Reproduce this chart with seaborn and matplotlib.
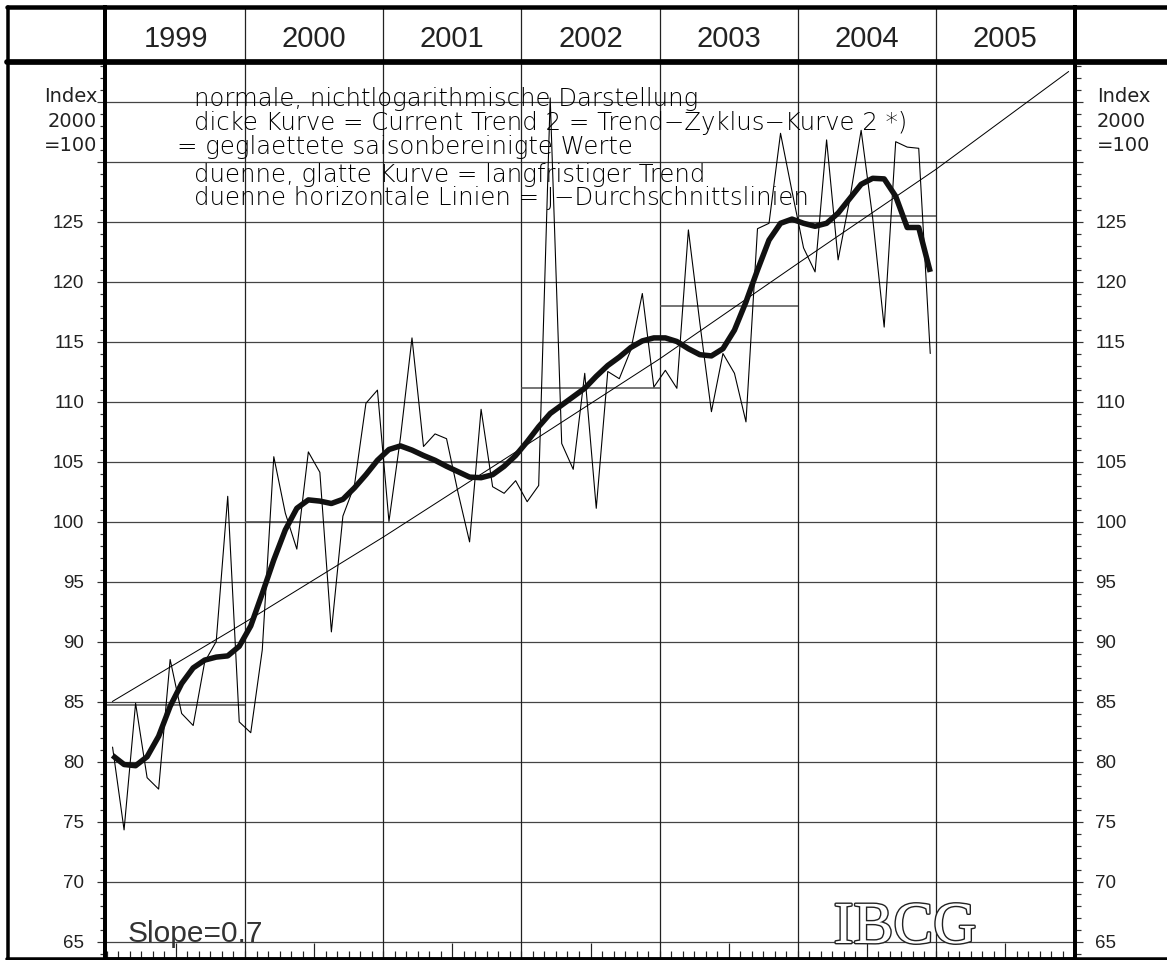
import numpy as np
import pandas as pd
import matplotlib
matplotlib.use('Agg')
import matplotlib.pyplot as plt
import matplotlib.patheffects as pe
from matplotlib.lines import Line2D
import seaborn as sns

# ---------------- data ----------------
header_years = [1999, 2000, 2001, 2002, 2003, 2004, 2005]
year_labels = ['1999', '2000', '2001', '2002', '2003', '2004', '2005']

# seasonally adjusted monthly values (thin line), Jan..Dec
sa_1999 = [81.2, 74.3, 84.85, 78.65, 77.7, 88.5, 84.0, 83.0, 88.3, 90.0, 102.1, 83.3]
sa_2000 = [82.4, 89.3, 105.4, 100.7, 97.7, 105.8, 104.1, 90.8, 100.45, 103.0, 109.85, 110.95]
sa_2001 = [100.0, 107.0, 115.3, 106.25, 107.3, 106.9, 102.4, 98.3, 109.35, 102.9, 102.35, 103.4]
sa_2002 = [101.65, 103.0, 135.3, 106.5, 104.35, 112.35, 101.1, 112.5, 111.9, 114.3, 119.0, 111.2]
sa_2003 = [112.6, 111.1, 124.3, 116.5, 109.15, 114.0, 112.35, 108.3, 124.4, 124.85, 132.35, 127.5]
sa_2004 = [122.8, 120.8, 131.8, 121.8, 126.8, 132.6, 125.3, 116.2, 131.65, 131.2, 131.1, 114.0]

# trend-cycle curve 2 (thick line)
tc_1999 = [80.5, 79.75, 79.65, 80.4, 82.1, 84.6, 86.5, 87.8, 88.45, 88.7, 88.8, 89.6]
tc_2000 = [91.3, 94.0, 96.8, 99.3, 101.1, 101.8, 101.7, 101.5, 101.85, 102.8, 103.9, 105.1]
tc_2001 = [106.0, 106.3, 105.95, 105.5, 105.1, 104.6, 104.15, 103.7, 103.65, 103.9, 104.6, 105.5]
tc_2002 = [106.65, 107.9, 109.0, 109.7, 110.4, 111.1, 112.1, 113.0, 113.7, 114.5, 115.05, 115.3]
tc_2003 = [115.3, 115.0, 114.4, 113.9, 113.8, 114.4, 115.95, 118.3, 120.95, 123.45, 124.85, 125.2]
tc_2004 = [124.85, 124.6, 124.85, 125.7, 126.9, 128.1, 128.6, 128.55, 127.1, 124.5, 124.5, 120.8]

# annual averages (thin horizontal lines)
avg_years = [1999, 2000, 2001, 2002, 2003, 2004]
avg_values = [84.7, 100.0, 104.95, 111.1, 118.0, 125.5]

# long-term trend (thin smooth line)
lt_x = [1999.04, 2000.0, 2001.0, 2002.0, 2003.0, 2004.0, 2005.0, 2005.96]
lt_y = [85.0, 91.6, 98.7, 106.1, 113.55, 121.5, 129.35, 137.5]

ytick_values = [65, 70, 75, 80, 85, 90, 95, 100, 105, 110, 115, 120, 125, 130, 135]
ytick_labels = ['65', '70', '75', '80', '85', '90', '95', '100', '105', '110',
                '115', '120', '125', '', '']

side_label = ['Index', '2000', '=100']
note_lines = ['normale, nichtlogarithmische Darstellung',
              'dicke Kurve = Current Trend 2 = Trend\u2212Zyklus\u2212Kurve 2 *)',
              '= geglaettete saisonbereinigte Werte',
              'duenne, glatte Kurve = langfristiger Trend',
              'duenne horizontale Linien = J\u2212Durchschnittslinien']
slope_text = 'Slope=0.7'
logo_text = 'IBCG'

# ---------------- assemble ----------------
sa = sa_1999 + sa_2000 + sa_2001 + sa_2002 + sa_2003 + sa_2004
tc = tc_1999 + tc_2000 + tc_2001 + tc_2002 + tc_2003 + tc_2004
months = np.arange(len(sa))
df = pd.DataFrame({'t': 1999 + (months + 0.5) / 12.0, 'sa': sa, 'tc': tc})
lt = pd.DataFrame({'t': lt_x, 'v': lt_y})

sns.set_style('white')
plt.rcParams['font.family'] = ['DejaVu Sans']
NARROW = ['Liberation Sans', 'DejaVu Sans']

W, H = 1167, 960
fig = plt.figure(figsize=(W / 100, H / 100), dpi=100)
PT = 0.72  # points per pixel


def fx(px):
    return px / W


def fy(py):
    return 1 - py / H


# pixel geometry of the frame
AX_L, AX_R, AX_T, AX_B = 105.3, 1074.5, 62.0, 958.5
X0, XS = 106.8, 138.2      # px of 1999.0, px per year
Y0, YS = 941.5, 12.0       # px of value 65, px per unit


def xd(px):
    return 1999 + (px - X0) / XS


def yd(py):
    return 65 + (Y0 - py) / YS


ax = fig.add_axes([fx(AX_L), fy(AX_B), fx(AX_R - AX_L), (AX_B - AX_T) / H])
ax.set_xlim(xd(AX_L), xd(AX_R))
ax.set_ylim(yd(AX_B), yd(AX_T))

# grid
for v in ytick_values:
    ax.axhline(v, color='#444444', lw=1.25 * PT, zorder=1)
for yr in header_years[1:]:
    ax.axvline(yr, color='#222222', lw=1.25 * PT, zorder=1)

# annual averages
ax.hlines(avg_values, avg_years, [y + 1 for y in avg_years],
          color='#4a4a4a', lw=1.5 * PT, zorder=2)

# lines
sns.lineplot(data=lt, x='t', y='v', ax=ax, color='black', lw=1.0 * PT, zorder=3)
sns.lineplot(data=df, x='t', y='sa', ax=ax, color='black', lw=1.1 * PT, zorder=4)
sns.lineplot(data=df, x='t', y='tc', ax=ax, color='#111111', lw=5.5 * PT, zorder=5,
             solid_capstyle='butt', solid_joinstyle='round')
ax.set_xlabel('')
ax.set_ylabel('')

# spines
for s in ['left', 'right']:
    ax.spines[s].set_linewidth(4.0 * PT)
    ax.spines[s].set_color('black')
ax.spines['top'].set_visible(False)
ax.spines['bottom'].set_linewidth(3.5 * PT)
ax.spines['bottom'].set_color('black')

# y ticks
ax.set_yticks(ytick_values)
ax.set_yticklabels(ytick_labels)
ax.set_yticks(np.arange(64, 139, 1), minor=True)
ax.tick_params(axis='y', which='major', direction='out', length=8 * PT,
               width=1.2 * PT, color='#333333', left=True, right=True,
               labelleft=True, labelright=True, pad=13 * PT,
               labelsize=13.5, labelcolor='#222222', labelfontfamily='Liberation Sans')
ax.tick_params(axis='y', which='minor', direction='out', length=5.5 * PT,
               width=1.2 * PT, color='#333333', left=True, right=True)

# x ticks: half-year long, monthly short, inside from bottom
ax.set_xticks([y + 0.5 for y in header_years])
ax.set_xticks([1999 + k / 12.0 for k in range(85)], minor=True)
ax.tick_params(axis='x', which='major', direction='in', length=16 * PT,
               width=1.2 * PT, color='#222222', bottom=True, top=False, labelbottom=False)
ax.tick_params(axis='x', which='minor', direction='in', length=8 * PT,
               width=1.2 * PT, color='#222222', bottom=True, top=False)

# side labels "Index 2000 =100"
side_base = [102, 127, 151]
for txt, py in zip(side_label, side_base):
    ax.text(xd(97), yd(py), txt, ha='right', va='baseline', fontsize=14,
            color='#222222', clip_on=False)
    ax.text(xd(1097), yd(py), txt, ha='left', va='baseline', fontsize=14,
            color='#222222', clip_on=False)

# note block
note_x = [194, 194, 177, 194, 194]
note_base = [106, 130, 154, 182, 205]
for txt, px, py in zip(note_lines, note_x, note_base):
    ax.text(xd(px), yd(py), txt, ha='left', va='baseline', fontsize=17.6,
            color='black', fontweight='light', zorder=6)

ax.text(xd(128), yd(942), slope_text, ha='left', va='baseline', fontsize=21.5,
        family=NARROW, color='#333333', zorder=6)
ax.text(xd(905), yd(943), logo_text, ha='center', va='baseline', fontsize=43,
        family=['Liberation Serif', 'DejaVu Serif'], color='white', zorder=6,
        path_effects=[pe.Stroke(linewidth=2.0, foreground='#222222'), pe.Normal()])

# header
hx = fig.add_axes([fx(AX_L), fy(AX_T), fx(AX_R - AX_L), (AX_T - 7) / H])
hx.set_xlim(ax.get_xlim())
hx.set_ylim(0, 1)
hx.set_xticks([])
hx.set_yticks([])
hx.set_facecolor('none')
for s in ['top', 'bottom']:
    hx.spines[s].set_visible(False)
for s in ['left', 'right']:
    hx.spines[s].set_linewidth(4.0 * PT)
    hx.spines[s].set_color('black')
for yr in header_years[1:]:
    hx.axvline(yr, color='#222222', lw=1.25 * PT)
for yr, lab in zip(header_years, year_labels):
    hx.text(yr + 0.5, (AX_T - 47) / (AX_T - 7), lab, ha='center', va='baseline',
            fontsize=21, family=NARROW, color='#222222')

# outer frame lines
frame = [((7, 1167), (7, 7), 4.5), ((7, 1167), (62, 62), 5.7),
         ((7.5, 7.5), (7, 960), 3.5), ((7, 1167), (958.5, 958.5), 3.5)]
for xs, ys, w in frame:
    fig.add_artist(Line2D([fx(xs[0]), fx(xs[1])], [fy(ys[0]), fy(ys[1])],
                          color='black', lw=w * PT, transform=fig.transFigure))

fig.savefig('out.png', dpi=100, facecolor='white')
